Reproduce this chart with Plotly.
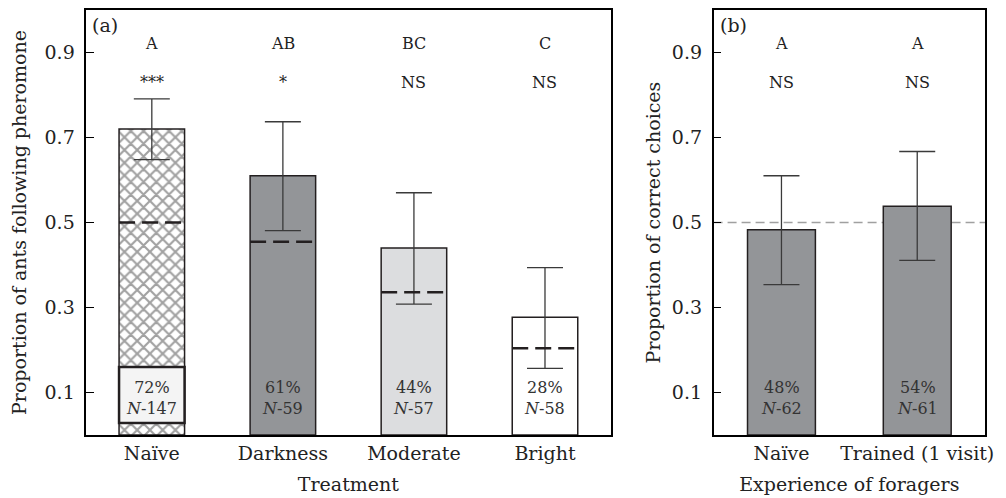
import plotly.graph_objects as go

# ---- data panel (a)
treatments = ["Naïve", "Darkness", "Moderate", "Bright"]
prop_a = [0.72, 0.61, 0.44, 0.277]
err_hi_a = [0.791, 0.737, 0.570, 0.394]
err_lo_a = [0.648, 0.481, 0.308, 0.157]
expected_a = [0.50, 0.455, 0.336, 0.204]
pct_a = ["72%", "61%", "44%", "28%"]
n_a = [147, 59, 57, 58]
letters_a = ["A", "AB", "BC", "C"]
sig_a = ["***", "*", "NS", "NS"]

# ---- data panel (b)
experience = ["Naïve", "Trained (1 visit)"]
prop_b = [0.483, 0.538]
err_hi_b = [0.610, 0.667]
err_lo_b = [0.354, 0.411]
pct_b = ["48%", "54%"]
n_b = [62, 61]
letters_b = ["A", "A"]
sig_b = ["NS", "NS"]
chance = 0.5

yticks = [0.1, 0.3, 0.5, 0.7, 0.9]

FONT = "DejaVu Serif"
INK = "#231f20"
TXT = "#333333"
DARK = "#939598"
LIGHT = "#dcdddf"
BW = 0.5

W, H = 998, 490  # page body has an 8px margin

fig = go.Figure()

xa = list(range(len(treatments)))
xb = list(range(len(experience)))

# panel a bars
fig.add_trace(go.Bar(
    x=xa, y=prop_a, width=BW, xaxis="x", yaxis="y",
    marker=dict(
        color=["white", DARK, LIGHT, "white"],
        line=dict(color=INK, width=1.5),
        pattern=dict(shape=["x", "", "", ""], fgcolor="black", bgcolor="white",
                     size=9, solidity=0.42),
    ),
    error_y=dict(type="data", symmetric=False,
                 array=[h - p for h, p in zip(err_hi_a, prop_a)],
                 arrayminus=[p - l for p, l in zip(prop_a, err_lo_a)],
                 color="#3a3a3a", thickness=1.3, width=18),
    showlegend=False, hoverinfo="skip",
))

# panel b bars
fig.add_trace(go.Bar(
    x=xb, y=prop_b, width=BW, xaxis="x2", yaxis="y2",
    marker=dict(color=DARK, line=dict(color=INK, width=1.5)),
    error_y=dict(type="data", symmetric=False,
                 array=[h - p for h, p in zip(err_hi_b, prop_b)],
                 arrayminus=[p - l for p, l in zip(prop_b, err_lo_b)],
                 color="#3a3a3a", thickness=1.3, width=18),
    showlegend=False, hoverinfo="skip",
))

# white label box in naive bar
fig.add_shape(type="rect", xref="x", yref="y",
              x0=xa[0] - BW / 2, x1=xa[0] + BW / 2, y0=0.028, y1=0.16,
              fillcolor="#f4f4f4", line=dict(color=INK, width=2.5), layer="above")

# expected (dashed) lines in panel a
for xi, e in zip(xa, expected_a):
    fig.add_shape(type="line", xref="x", yref="y",
                  x0=xi - BW / 2, x1=xi + BW / 2, y0=e, y1=e,
                  line=dict(color=INK, width=2.5, dash="16px,7px"), layer="above")

# chance line in panel b
fig.add_shape(type="line", xref="x2 domain", yref="y2",
              x0=0, x1=1, y0=chance, y1=chance,
              line=dict(color="#a0a0a0", width=1.3, dash="9px,5px"), layer="below")

annotations = []
# labels inside bars (annotations draw above shapes)
for xr, yr, xs, pcts, ns in [("x", "y", xa, pct_a, n_a), ("x2", "y2", xb, pct_b, n_b)]:
    for xi, p, n in zip(xs, pcts, ns):
        annotations.append(dict(
            text=f"{p}<br><i>N</i>-{n}", xref=xr, yref=yr, x=xi, y=0.088,
            showarrow=False, font=dict(family=FONT, size=16, color=TXT)))

# letters and significance
for xs, letters, sig, xr, yr in [(xa, letters_a, sig_a, "x", "y"), (xb, letters_b, sig_b, "x2", "y2")]:
    for xi, l, s in zip(xs, letters, sig):
        annotations.append(dict(text=l, xref=xr, yref=yr, x=xi, y=0.921, showarrow=False,
                                font=dict(family=FONT, size=16, color="#222")))
        annotations.append(dict(text=s, xref=xr, yref=yr, x=xi, y=0.83, showarrow=False,
                                font=dict(family=FONT, size=16, color="#222")))

annotations += [
    dict(text="(a)", xref="x domain", yref="y domain", x=0.008, y=0.995,
         xanchor="left", yanchor="top", showarrow=False,
         font=dict(family=FONT, size=19, color="#222")),
    dict(text="(b)", xref="x2 domain", yref="y2 domain", x=0.015, y=0.995,
         xanchor="left", yanchor="top", showarrow=False,
         font=dict(family=FONT, size=19, color="#222")),
]

axis_common = dict(showline=True, linecolor="black", linewidth=1.5, mirror=True,
                   showgrid=False, zeroline=False)
tick_font = dict(family=FONT, size=19, color="#222")
title_font = dict(family=FONT, size=19, color="#222")

fig.update_layout(
    width=W, height=H,
    margin=dict(l=0, r=0, t=2, b=63),
    paper_bgcolor="white", plot_bgcolor="white",
    xaxis=dict(domain=[79 / W, 608 / W], range=[-0.5, len(treatments) - 0.5],
               tickvals=xa, ticktext=treatments, ticks="", ticklabelstandoff=0,
               tickfont=tick_font, **axis_common,
               title=dict(text="Treatment", font=title_font, standoff=15)),
    yaxis=dict(domain=[0, 1], range=[0, 1], tickvals=yticks, ticktext=[f"{v:.1f}" for v in yticks],
               ticks="inside", ticklen=8, tickwidth=1.3, tickcolor="black",
               ticklabelstandoff=6, tickfont=tick_font, **axis_common,
               title=dict(text="Proportion of ants following pheromone",
                          font=title_font, standoff=14)),
    xaxis2=dict(domain=[712 / W, 986 / W], range=[-0.5, len(experience) - 0.5],
                tickvals=xb, ticktext=experience, ticks="", ticklabelstandoff=0, anchor="y2",
                tickfont=tick_font, **axis_common,
                title=dict(text="Experience of foragers", font=title_font, standoff=15)),
    yaxis2=dict(domain=[0, 1], range=[0, 1], anchor="x2", tickvals=yticks,
                ticktext=[f"{v:.1f}" for v in yticks],
                ticks="inside", ticklen=8, tickwidth=1.3, tickcolor="black",
                ticklabelstandoff=6, tickfont=tick_font, **axis_common,
                title=dict(text="Proportion of correct choices",
                           font=title_font, standoff=6)),
    annotations=annotations,
)

fig.write_html("out.html")
